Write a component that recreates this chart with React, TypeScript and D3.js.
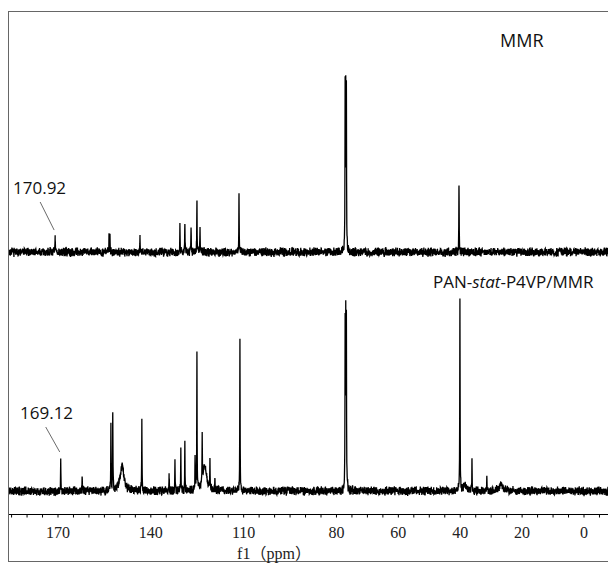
import React, { useEffect, useRef } from "react";
import * as d3 from "d3";

// peak positions (ppm) and heights (a.u., 100 = tallest unclipped line)
const mmrPpm = [170.92, 153.5, 153.2, 143.5, 130.6, 129.0, 127.0, 125.1, 124.1, 111.5, 77.2, 77.0, 76.8, 40.4];
const mmrHeight = [8.3, 9.4, 9.4, 8.3, 14.4, 16.7, 13.9, 30, 14.4, 34.4, 86, 86, 86, 38.3];

const polyPpm = [169.12, 162.2, 152.9, 152.3, 142.9, 134.1, 132.2, 130.3, 129.0, 125.7, 125.1, 123.4, 120.9, 119.3, 111.2, 77.2, 77.0, 76.8, 40.1, 36.2, 31.4];
const polyHeight = [17.8, 9.4, 35.6, 42.8, 41.1, 10, 16.1, 23.3, 26.1, 17.2, 74.4, 27.8, 17.8, 6.7, 82.8, 90, 90, 90, 105, 16.1, 10];

// broad humps in the polymer spectrum
const polyBroadPpm = [149.3, 122.6, 38.5, 26.8];
const polyBroadHeight = [14.4, 14, 3, 3.3];

const tickLabels = [170, 140, 110, 80, 60, 40, 20, 0];

function rng(seed: number) {
  let a = seed;
  return () => {
    a |= 0;
    a = (a + 0x6d2b79f5) | 0;
    let t = Math.imul(a ^ (a >>> 15), 1 | a);
    t = (t + Math.imul(t ^ (t >>> 7), 61 | t)) ^ t;
    return ((t ^ (t >>> 14)) >>> 0) / 4294967296;
  };
}

function spectrum(ppm: number[], h: number[], bPpm: number[], bH: number[], seed: number) {
  const rand = rng(seed);
  const xs = d3.range(187, -9, -0.06).concat(ppm).sort((a, b) => b - a);
  const g = 0.06;
  const gb = 0.7;
  return xs.map((p) => {
    let v = 0;
    ppm.forEach((c, i) => (v += (h[i] * g * g) / (g * g + (p - c) * (p - c))));
    bPpm.forEach((c, i) => (v += (bH[i] * gb * gb) / (gb * gb + (p - c) * (p - c))));
    v += (rand() - 0.5) * 4.2 + (rand() - 0.5) * 1.4;
    return [p, v] as [number, number];
  });
}

export default function App() {
  const ref = useRef<SVGSVGElement>(null);

  useEffect(() => {
    document.body.style.margin = "0";
    const width = 608;
    const height = 563;
    const svg = d3.select(ref.current).attr("width", width).attr("height", height);
    svg.selectAll("*").remove();

    const x = d3.scaleLinear().domain([170, 0]).range([58, 584]);
    const yTop = d3.scaleLinear().domain([0, 100]).range([252, 72]);
    const yBot = d3.scaleLinear().domain([0, 100]).range([491, 311]);

    // frame
    svg
      .append("rect")
      .attr("x", 8.5)
      .attr("y", 11.5)
      .attr("width", 700)
      .attr("height", 550)
      .attr("fill", "none")
      .attr("stroke", "#666")
      .attr("stroke-width", 1);

    svg
      .append("clipPath")
      .attr("id", "plotclip")
      .append("rect")
      .attr("x", 9)
      .attr("y", 12)
      .attr("width", 700)
      .attr("height", 500);

    const top = spectrum(mmrPpm, mmrHeight, [], [], 7);
    const bot = spectrum(polyPpm, polyHeight, polyBroadPpm, polyBroadHeight, 11);

    const plot = svg.append("g").attr("clip-path", "url(#plotclip)");
    const line = (y: d3.ScaleLinear<number, number>) =>
      d3.line<[number, number]>().x((d) => x(d[0])).y((d) => y(d[1]));
    plot
      .append("path")
      .datum(top)
      .attr("fill", "none")
      .attr("stroke", "#000")
      .attr("stroke-width", 1.3)
      .attr("d", line(yTop));
    plot
      .append("path")
      .datum(bot)
      .attr("fill", "none")
      .attr("stroke", "#000")
      .attr("stroke-width", 1.3)
      .attr("d", line(yBot));

    // axis
    const axisY = 514.5;
    svg
      .append("line")
      .attr("x1", 9)
      .attr("x2", 608)
      .attr("y1", axisY)
      .attr("y2", axisY)
      .attr("stroke", "#000");
    const ticks = d3.range(-5, 186, 5);
    svg
      .selectAll(".tick")
      .data(ticks)
      .join("line")
      .attr("x1", (d) => x(d))
      .attr("x2", (d) => x(d))
      .attr("y1", axisY)
      .attr("y2", axisY + 3)
      .attr("stroke", "#000");
    svg
      .selectAll(".tl")
      .data(tickLabels)
      .join("text")
      .attr("x", (d) => x(d))
      .attr("y", 538)
      .attr("text-anchor", "middle")
      .attr("font-family", "Liberation Serif, serif")
      .attr("font-size", 16)
      .attr("fill", "#222")
      .text((d) => d);
    svg
      .append("text")
      .attr("x", 274)
      .attr("y", 559)
      .attr("text-anchor", "middle")
      .attr("font-family", "Liberation Serif, Noto Sans CJK SC, serif")
      .attr("font-size", 16)
      .attr("fill", "#222")
      .text("f1（ppm）");

    // trace labels
    const sans = "Open Sans, sans-serif";
    svg
      .append("text")
      .attr("x", 500)
      .attr("y", 47)
      .attr("font-family", sans)
      .attr("font-size", 18)
      .attr("fill", "#111")
      .text("MMR");
    const t2 = svg
      .append("text")
      .attr("x", 433)
      .attr("y", 288)
      .attr("font-family", sans)
      .attr("font-size", 17)
      .attr("fill", "#111");
    t2.append("tspan").text("PAN-");
    t2.append("tspan").attr("font-style", "italic").text("stat");
    t2.append("tspan").text("-P4VP/MMR");

    // peak annotations
    const ann = [
      { label: "170.92", ppm: 170.92, y: yTop, h: 8.3, tx: 13, ty: 194 },
      { label: "169.12", ppm: 169.12, y: yBot, h: 17.8, tx: 20, ty: 419 },
    ];
    ann.forEach((a) => {
      svg
        .append("text")
        .attr("x", a.tx)
        .attr("y", a.ty)
        .attr("font-family", sans)
        .attr("font-size", 17)
        .attr("fill", "#111")
        .text(a.label);
      svg
        .append("line")
        .attr("x1", x(a.ppm) - 15)
        .attr("y1", a.ty + 8)
        .attr("x2", x(a.ppm) - 1)
        .attr("y2", a.y(a.h) - 7)
        .attr("stroke", "#444")
        .attr("stroke-width", 0.8);
    });
  }, []);

  return <svg ref={ref} style={{ display: "block" }} />;
}
